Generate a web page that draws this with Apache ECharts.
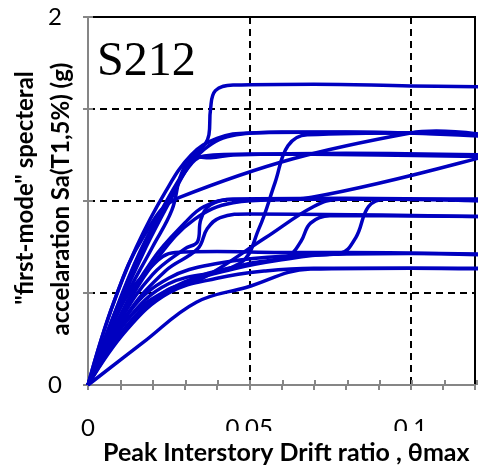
<!DOCTYPE html>
<html><head><meta charset="utf-8">
<script src="https://cdn.jsdelivr.net/npm/echarts@6/dist/echarts.min.js"></script>
<style>html,body{margin:0;padding:0;background:#fff}#c{width:478px;height:470px}</style>
</head><body><div id="c"></div>
<script>
// ---- tick labels / texts ----
const xTickLabels = ['0', '0.05', '0.1'];
const yTickLabels = ['0', '2'];
const xTitle = 'Peak Interstory Drift ratio , θmax';
const yTitle1 = '"first-mode" specteral';
const yTitle2 = 'accelaration Sa(T1,5%) (g)';
const panelLabel = 'S212';

// ---- IDA curves: [peak interstory drift ratio, Sa(T1,5%) in g] ----
const curve01 = [[0,0],[0.008,0.38],[0.016,0.72],[0.025,1.02],[0.032,1.22],[0.0375,1.36],[0.038,1.5],[0.0395,1.6],[0.045,1.63],[0.07,1.635],[0.1,1.625],[0.125,1.62]];
const curve02 = [[0,0],[0.007,0.4],[0.015,0.75],[0.024,1.05],[0.032,1.25],[0.04,1.34],[0.05,1.37],[0.08,1.375],[0.125,1.35]];
const curve03 = [[0,0],[0.009,0.42],[0.018,0.78],[0.028,1.1],[0.036,1.28],[0.046,1.36],[0.06,1.375],[0.1,1.37],[0.125,1.36]];
const curve04 = [[0,0],[0.008,0.45],[0.017,0.8],[0.0284,1.02],[0.1,1.37],[0.108,1.38],[0.125,1.355]];
const curve05 = [[0,0],[0.012,0.35],[0.025,0.55],[0.047,0.66],[0.053,0.85],[0.058,1.1],[0.062,1.3],[0.068,1.36],[0.1,1.37],[0.125,1.36]];
const curve06 = [[0,0],[0.009,0.4],[0.018,0.75],[0.026,1.02],[0.031,1.18],[0.036,1.245],[0.05,1.255],[0.09,1.25],[0.125,1.24]];
const curve07 = [[0,0],[0.01,0.42],[0.02,0.75],[0.026,0.95],[0.029,1.15],[0.033,1.24],[0.038,1.235],[0.045,1.25],[0.08,1.26],[0.125,1.25]];
const curve08 = [[0,0],[0.011,0.4],[0.022,0.7],[0.033,0.9],[0.045,0.99],[0.0694,1.02],[0.14,1.326]];
const curve09 = [[0,0],[0.01,0.38],[0.02,0.68],[0.03,0.88],[0.036,0.97],[0.045,1.01],[0.08,1.015],[0.125,1.0]];
const curve10 = [[0,0],[0.013,0.4],[0.025,0.58],[0.04,0.66],[0.06,0.7],[0.078,0.715],[0.083,0.8],[0.087,0.97],[0.092,1.01],[0.125,1.0]];
const curve11 = [[0,0],[0.01,0.35],[0.02,0.6],[0.03,0.74],[0.034,0.78],[0.035,0.9],[0.038,0.98],[0.045,1.01],[0.125,1.01]];
const curve12 = [[0,0],[0.012,0.38],[0.024,0.62],[0.034,0.74],[0.037,0.85],[0.041,0.91],[0.05,0.93],[0.125,0.915]];
const curve13 = [[0,0],[0.015,0.38],[0.03,0.56],[0.05,0.66],[0.062,0.7],[0.066,0.78],[0.069,0.88],[0.075,0.92],[0.125,0.915]];
const curve14 = [[0,0],[0.015,0.38],[0.03,0.55],[0.045,0.63],[0.06,0.68],[0.075,0.71],[0.1,0.715],[0.125,0.705]];
const curve15 = [[0,0],[0.01,0.42],[0.02,0.65],[0.027,0.72],[0.04,0.725],[0.06,0.72],[0.08,0.72],[0.125,0.71]];
const curve16 = [[0,0],[0.017,0.23],[0.0336,0.45],[0.049,0.53],[0.069,0.63],[0.1,0.635],[0.125,0.63]];
const curve17 = [[0,0],[0.012,0.3],[0.025,0.5],[0.04,0.58],[0.055,0.62],[0.07,0.635],[0.125,0.635]];
const curve18 = [[0,0],[0.012,0.35],[0.025,0.52],[0.0345,0.57],[0.055,0.8],[0.07,0.97],[0.078,1.01],[0.125,1.01]];

const curves = [curve01,curve02,curve03,curve04,curve05,curve06,curve07,curve08,curve09,
                curve10,curve11,curve12,curve13,curve14,curve15,curve16,curve17,curve18];

const AX = '#868686';
const LINE = '#0000c0';
const gridBox = {left: 88, top: 17, width: 389, height: 368};

function xFmt(v) {
  const r = Math.round(v * 100);
  if (r === 0) return xTickLabels[0];
  if (r === 5) return xTickLabels[1];
  if (r === 10) return xTickLabels[2];
  return '';
}
function yFmt(v) {
  if (Math.abs(v) < 1e-9) return yTickLabels[0];
  if (Math.abs(v - 2) < 1e-9) return yTickLabels[1];
  return '';
}

const chart = echarts.init(document.getElementById('c'), null, {renderer: 'canvas'});
chart.setOption({
  animation: false,
  backgroundColor: '#fff',
  grid: [
    Object.assign({show: true, borderColor: '#000', borderWidth: 2, backgroundColor: 'transparent'}, gridBox),
    Object.assign({show: false}, gridBox)
  ],
  xAxis: [
    {
      type: 'value', gridIndex: 0, min: 0, max: 0.12, interval: 0.05, position: 'bottom',
      axisLine: {show: true, lineStyle: {color: AX, width: 2}},
      axisTick: {show: true, length: 5, lineStyle: {color: AX, width: 2}},
      minorTick: {show: true, splitNumber: 5, length: 5, lineStyle: {color: AX, width: 2}},
      splitLine: {show: true, lineStyle: {color: '#000', width: 2, type: [7, 5]}},
      axisLabel: {formatter: xFmt, margin: 31, color: '#000', fontFamily: 'Lato', fontSize: 24}
    },
    {
      type: 'value', gridIndex: 1, min: 0, max: 0.12, interval: 0.05, position: 'bottom',
      axisLine: {show: false},
      axisTick: {show: true, inside: true, length: 5, lineStyle: {color: AX, width: 2}},
      minorTick: {show: true, splitNumber: 5, length: 5, lineStyle: {color: AX, width: 2}},
      splitLine: {show: false}, axisLabel: {show: false}
    }
  ],
  yAxis: [
    {
      type: 'value', gridIndex: 0, min: 0, max: 2, interval: 0.5, position: 'left',
      axisLine: {show: true, lineStyle: {color: AX, width: 2}},
      axisTick: {show: true, length: 5, lineStyle: {color: AX, width: 2}},
      splitLine: {show: true, lineStyle: {color: '#000', width: 2, type: [7, 5]}},
      axisLabel: {formatter: yFmt, margin: 26, color: '#000', fontFamily: 'Lato', fontSize: 24}
    },
    {
      type: 'value', gridIndex: 1, min: 0, max: 2, interval: 0.5, position: 'left',
      axisLine: {show: false},
      axisTick: {show: true, inside: true, length: 5, lineStyle: {color: AX, width: 2}},
      splitLine: {show: false}, axisLabel: {show: false}
    }
  ],
  series: curves.map(function (c) {
    return {
      type: 'line', xAxisIndex: 0, yAxisIndex: 0, data: c,
      showSymbol: false, smooth: 0.4, clip: true,
      lineStyle: {color: LINE, width: 3.5}, z: 3
    };
  }),
  graphic: [
    {type: 'rect', left: 100, top: 431, shape: {width: 378, height: 39}, style: {fill: '#fff'}, z: 100, silent: true},
    {type: 'text', left: 103, top: 440, z: 101,
     style: {text: xTitle, fill: '#000', font: 'bold 25px Lato'}},
    {type: 'text', x: 25, y: 188, rotation: Math.PI / 2, z: 101,
     style: {text: yTitle1, fill: '#000', font: 'bold 24px Lato', align: 'center', verticalAlign: 'middle'}},
    {type: 'text', x: 61, y: 199, rotation: Math.PI / 2, z: 101,
     style: {text: yTitle2, fill: '#000', font: 'bold 24px Lato', align: 'center', verticalAlign: 'middle'}},
    {type: 'text', left: 97, top: 38, z: 101,
     style: {text: panelLabel, fill: '#000', font: '48px "Liberation Serif"'}}
  ]
});
</script></body></html>
